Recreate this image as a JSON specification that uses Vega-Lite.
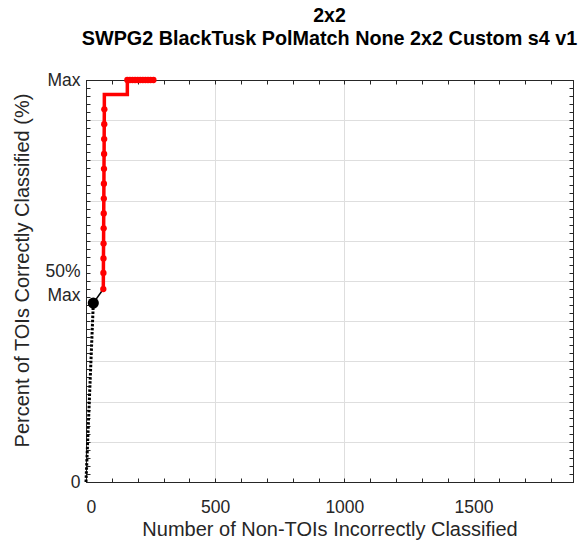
{
  "$schema": "https://vega.github.io/schema/vega-lite/v6.json",
  "width": 487,
  "height": 402,
  "autosize": {"type": "none"},
  "padding": {"left": 86, "top": 80, "right": 10, "bottom": 59},
  "background": "white",
  "title": {
    "text": "2x2",
    "subtitle": "SWPG2 BlackTusk PolMatch None 2x2 Custom s4 v1",
    "anchor": "middle",
    "font": "Liberation Sans",
    "fontSize": 19.5,
    "fontWeight": "bold",
    "color": "black",
    "subtitleFont": "Liberation Sans",
    "subtitleFontSize": 19.8,
    "subtitleFontWeight": "bold",
    "subtitleColor": "black",
    "subtitlePadding": 3,
    "offset": 21
  },
  "config": {
    "view": {"stroke": "#262626", "strokeWidth": 1},
    "axis": {
      "labelFont": "Liberation Sans",
      "titleFont": "Liberation Sans",
      "labelFontSize": 17.5,
      "titleFontSize": 20,
      "titleFontWeight": "normal",
      "labelColor": "#262626",
      "titleColor": "#262626",
      "domainColor": "#262626",
      "tickColor": "#262626",
      "gridColor": "#dedede",
      "gridWidth": 1
    }
  },
  "data": {
    "values": [
      {"s": "black", "i": 0, "x": 0, "y": 0},
      {"s": "black", "i": 1, "x": 28.3, "y": 44.5},
      {"s": "conn", "i": 0, "x": 28.3, "y": 44.5},
      {"s": "conn", "i": 1, "x": 67, "y": 48},
      {"s": "red", "i": 0, "x": 67, "y": 48, "m": 1},
      {"s": "red", "i": 1, "x": 67.3, "y": 52, "m": 1},
      {"s": "red", "i": 2, "x": 67.6, "y": 55.6, "m": 1},
      {"s": "red", "i": 3, "x": 68, "y": 59.3, "m": 1},
      {"s": "red", "i": 4, "x": 68.3, "y": 63.1, "m": 1},
      {"s": "red", "i": 5, "x": 68.6, "y": 66.8, "m": 1},
      {"s": "red", "i": 6, "x": 69, "y": 70.5, "m": 1},
      {"s": "red", "i": 7, "x": 69.3, "y": 74.2, "m": 1},
      {"s": "red", "i": 8, "x": 69.6, "y": 77.9, "m": 1},
      {"s": "red", "i": 9, "x": 70, "y": 81.6, "m": 1},
      {"s": "red", "i": 10, "x": 70.3, "y": 85.3, "m": 1},
      {"s": "red", "i": 11, "x": 70.6, "y": 89, "m": 1},
      {"s": "red", "i": 12, "x": 71, "y": 92.7, "m": 1},
      {"s": "red", "i": 13, "x": 71, "y": 96.4, "m": 0},
      {"s": "red", "i": 14, "x": 160, "y": 96.4, "m": 0},
      {"s": "red", "i": 15, "x": 160, "y": 100, "m": 1},
      {"s": "red", "i": 16, "x": 170, "y": 100, "m": 1},
      {"s": "red", "i": 17, "x": 180, "y": 100, "m": 1},
      {"s": "red", "i": 18, "x": 190, "y": 100, "m": 1},
      {"s": "red", "i": 19, "x": 200, "y": 100, "m": 1},
      {"s": "red", "i": 20, "x": 210, "y": 100, "m": 1},
      {"s": "red", "i": 21, "x": 220, "y": 100, "m": 1},
      {"s": "red", "i": 22, "x": 230, "y": 100, "m": 1},
      {"s": "red", "i": 23, "x": 240, "y": 100, "m": 1},
      {"s": "red", "i": 24, "x": 250, "y": 100, "m": 1},
      {"s": "red", "i": 25, "x": 261, "y": 100, "m": 1},
      {"s": "dot", "i": 0, "x": 28.3, "y": 44.5}
    ]
  },
  "layer": [
    {
      "encoding": {
        "x": {
          "field": "x", "type": "quantitative",
          "scale": {"domain": [0, 1885], "nice": false, "zero": false},
          "axis": {
            "orient": "bottom",
            "title": "Number of Non-TOIs Incorrectly Classified",
            "values": [0,100,200,300,400,500,600,700,800,900,1000,1100,1200,1300,1400,1500,1600,1700,1800],
            "labelExpr": "datum.value % 500 === 0 ? datum.label : ''",
            "format": "d",
            "tickSize": -4,
            "labelPadding": 20,
            "titlePadding": 4,
            "gridOpacity": {"condition": {"test": "datum.value % 500 === 0 && datum.value > 0", "value": 1}, "value": 0},
            "grid": true
          }
        },
        "y": {
          "field": "y", "type": "quantitative",
          "scale": {"domain": [0, 100], "nice": false, "zero": false},
          "axis": {
            "orient": "left",
            "title": "Percent of TOIs Correctly Classified (%)",
            "titleY": 190,
            "values": [0,2,4,6,8,10,12,14,16,18,20,22,24,26,28,30,32,34,36,38,40,42,44,46,46.4,48,50,52,52.4,54,56,58,60,62,64,66,68,70,72,74,76,78,80,82,84,86,88,90,92,94,96,98,100],
            "labelExpr": "datum.value === 0 ? '0' : datum.value === 46.4 ? 'Max' : datum.value === 52.4 ? '50%' : datum.value === 100 ? 'Max' : ''",
            "tickSize": -4,
            "tickOpacity": {"condition": {"test": "datum.value === 46.4 || datum.value === 52.4", "value": 0}, "value": 1},
            "labelPadding": 10,
            "titlePadding": 12,
            "gridOpacity": {"condition": {"test": "datum.value % 10 === 0 && datum.value > 0 && datum.value < 100", "value": 1}, "value": 0},
            "grid": true
          }
        },
        "order": {"field": "i", "type": "quantitative"}
      },
      "layer": [
        {
          "transform": [{"filter": "datum.s === 'black'"}],
          "mark": {"type": "line", "color": "black", "strokeWidth": 3, "strokeDash": [2.5, 1.6], "strokeCap": "butt"}
        },
        {
          "transform": [{"filter": "datum.s === 'conn'"}],
          "mark": {"type": "line", "color": "black", "strokeWidth": 1.5}
        },
        {
          "transform": [{"filter": "datum.s === 'red'"}],
          "mark": {"type": "line", "color": "#ff0000", "strokeWidth": 3.5}
        },
        {
          "transform": [{"filter": "datum.s === 'red' && datum.m === 1"}],
          "mark": {"type": "circle", "color": "#ff0000", "opacity": 1, "size": 40}
        },
        {
          "transform": [{"filter": "datum.s === 'dot'"}],
          "mark": {"type": "circle", "color": "black", "opacity": 1, "size": 125}
        }
      ]
    },
    {
      "transform": [{"filter": "datum.s === 'dot'"}],
      "mark": {"type": "point", "opacity": 0},
      "encoding": {
        "x": {
          "field": "x", "type": "quantitative",
          "scale": {"domain": [0, 1885], "nice": false, "zero": false},
          "axis": {
            "orient": "top", "title": null, "labels": false, "grid": false,
            "values": [0,100,200,300,400,500,600,700,800,900,1000,1100,1200,1300,1400,1500,1600,1700,1800],
            "tickSize": -4
          }
        },
        "y": {
          "field": "y", "type": "quantitative",
          "scale": {"domain": [0, 100], "nice": false, "zero": false},
          "axis": {
            "orient": "right", "title": null, "labels": false, "grid": false,
            "values": [0,2,4,6,8,10,12,14,16,18,20,22,24,26,28,30,32,34,36,38,40,42,44,46,48,50,52,54,56,58,60,62,64,66,68,70,72,74,76,78,80,82,84,86,88,90,92,94,96,98,100],
            "tickSize": -4
          }
        }
      }
    }
  ],
  "resolve": {"axis": {"x": "independent", "y": "independent"}}
}
